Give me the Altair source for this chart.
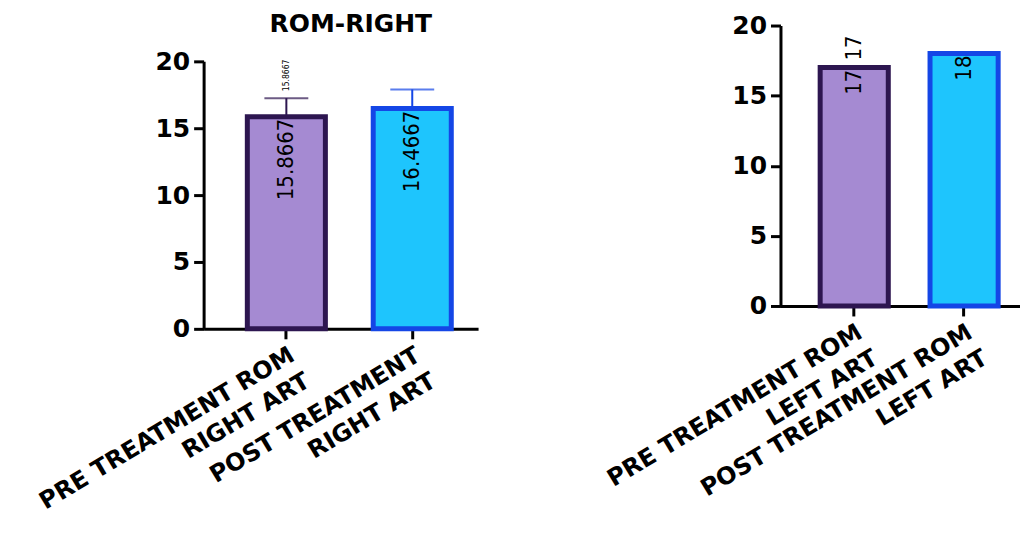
import altair as alt
import pandas as pd

# ---- data ----
left_cats = ["PRE TREATMENT ROM|RIGHT ART", "POST TREATMENT|RIGHT ART"]
left_means = [15.8667, 16.4667]
left_upper = [17.25, 17.9]
left_inner = ["15.8667", "16.4667"]
left_outer = ["15.8667", ""]

right_cats = ["PRE TREATMENT ROM|LEFT ART", "POST TREATMENT ROM|LEFT ART"]
right_means = [17, 18]
right_inner = ["17", "18"]
right_outer = ["17", ""]

fills = ["#a58ad2", "#1ec5fd"]
strokes = ["#2d1650", "#1446e6"]

BOLD = "DejaVu Sans"
NARROW = "Liberation Sans Narrow, DejaVu Sans Condensed, Liberation Sans"


def panel(cats, means, upper, inner, outer, width, height, align, inner_size, outer_size,
          title=None, show_err=True, xtitle=None, xtitle_pad=0):
    df = pd.DataFrame({
        "cat": cats,
        "mean": means,
        "upper": upper if upper is not None else means,
        "inner": inner,
        "outer": outer,
    })
    axis_kw = dict(
        labelExpr="split(datum.label, '|')", labelAngle=-31,
        labelAlign="right", labelBaseline="top", labelFont=BOLD, labelFontWeight="bold",
        labelFontSize=24, labelColor="black", labelLineHeight=30, labelPadding=4,
        labelLimit=0, labelOverlap=False,
        domainColor="black", domainWidth=3, tickColor="black", tickWidth=3, tickSize=10,
    )
    if xtitle is None:
        axis_kw["title"] = None
    else:
        axis_kw.update(title=xtitle, titleFontSize=10, titlePadding=xtitle_pad)
    x = alt.X(
        "cat:N", sort=cats,
        scale=alt.Scale(paddingInner=0.38, paddingOuter=0.28, align=align),
        axis=alt.Axis(**axis_kw),
    )
    yscale = alt.Scale(domain=[0, 20], nice=False)
    y = alt.Y(
        "mean:Q", scale=yscale,
        axis=alt.Axis(
            title=None, values=[0, 5, 10, 15, 20], grid=False, labelFont=BOLD, labelFontWeight="bold",
            labelFontSize=25, labelColor="black", labelPadding=4,
            domainColor="black", domainWidth=3, tickColor="black", tickWidth=3, tickSize=10,
        ),
    )
    fill = alt.Color("cat:N", scale=alt.Scale(domain=cats, range=fills), legend=None)
    stroke = alt.Stroke("cat:N", scale=alt.Scale(domain=cats, range=strokes), legend=None)
    base = alt.Chart(df)
    layers = [base.mark_bar(strokeWidth=5).encode(x=x, y=y, fill=fill, stroke=stroke)]
    if show_err:
        layers.append(base.mark_rule(strokeWidth=2).encode(
            x=x, y=alt.Y("mean:Q", scale=yscale), y2="upper:Q", color=stroke))
        layers.append(base.mark_tick(thickness=2, size=44).encode(
            x=x, y=alt.Y("upper:Q", scale=yscale), color=stroke))
    layers.append(base.mark_text(angle=270, align="right", baseline="middle", dx=-2,
                                 font=NARROW, fontSize=inner_size, color="black").encode(
        x=x, y=alt.Y("mean:Q", scale=yscale), text="inner:N"))
    layers.append(base.mark_text(angle=270, align="left", baseline="middle", dx=7,
                                 font=NARROW, fontSize=outer_size, color="black").encode(
        x=x, y=alt.Y("upper:Q", scale=yscale), text="outer:N"))
    ch = alt.layer(*layers).properties(width=width, height=height)
    if title is not None:
        ch = ch.properties(title=title)
    return ch


left = panel(left_cats, left_means, left_upper, left_inner, left_outer, 275, 268, 0.62, 22, 8.5,
             title=alt.TitleParams("ROM-RIGHT", font=BOLD, fontWeight="bold", fontSize=25,
                                   color="black", anchor="middle", offset=12, dx=10))
right = panel(right_cats, right_means, None, right_inner, right_outer, 240, 281, 0.645, 22, 22,
              show_err=False, xtitle=" ", xtitle_pad=60)

chart = (alt.hconcat(left, right, spacing=125, center=True)
         .properties(padding={"left": 27, "top": 3, "right": 0, "bottom": 0})
         .configure_view(stroke=None))

chart.save("out.html", embed_options={"renderer": "svg", "actions": False})
